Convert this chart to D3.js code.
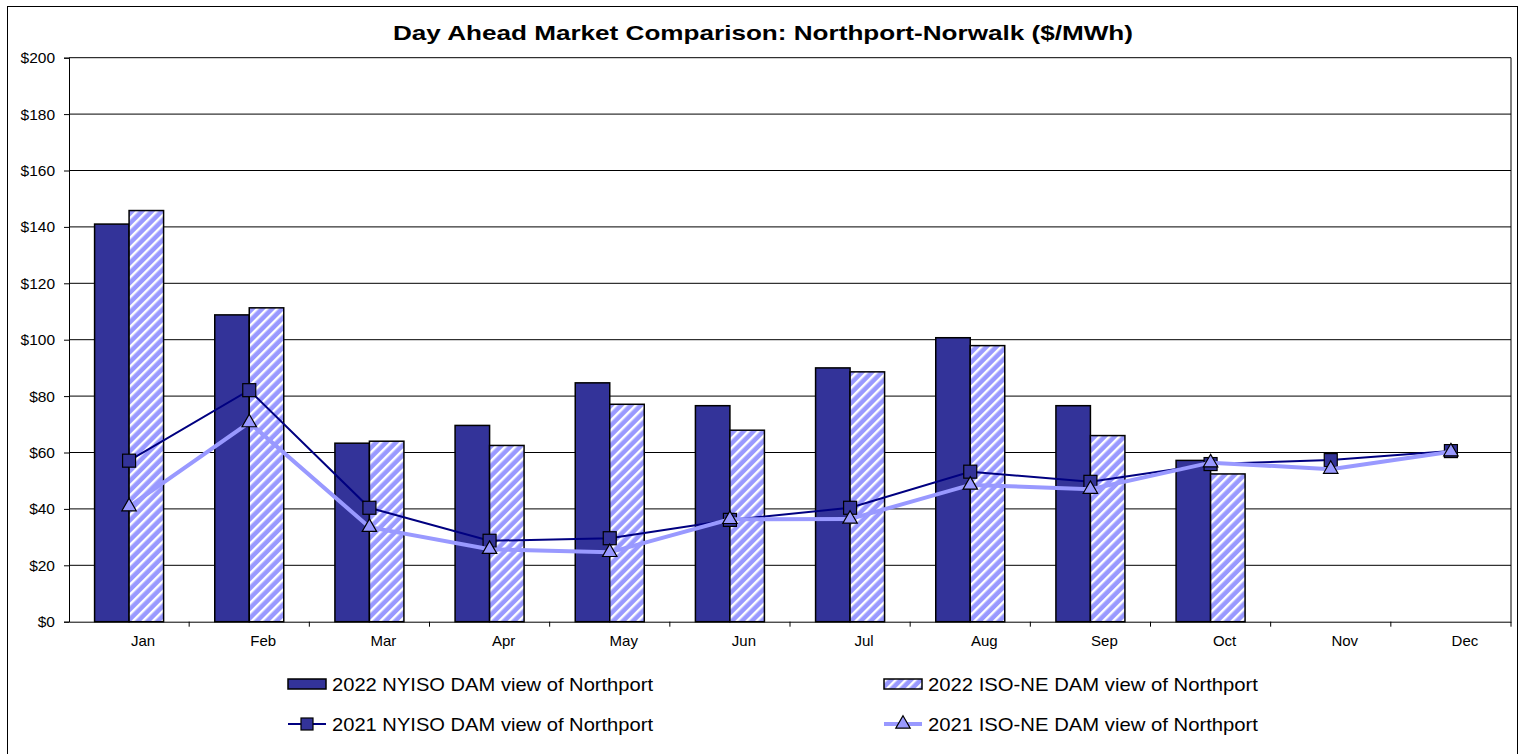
<!DOCTYPE html>
<html><head><meta charset="utf-8">
<script src="https://cdn.jsdelivr.net/npm/d3@7"></script>
<style>body{margin:0;background:#fff}svg{display:block;font-family:"Liberation Sans",Arial,sans-serif}</style>
</head><body>
<svg id="c" width="1525" height="754"></svg>
<script>
const months = ["Jan","Feb","Mar","Apr","May","Jun","Jul","Aug","Sep","Oct","Nov","Dec"];
const nyiso2022 = [141.0,108.8,63.3,69.6,84.7,76.6,90.0,100.7,76.6,57.2,null,null];
const isone2022 = [145.8,111.3,64.0,62.5,77.1,67.9,88.6,97.9,66.0,52.4,null,null];
const nyiso2021 = [57.1,82.1,40.4,28.7,29.6,36.1,40.4,53.2,49.6,55.9,57.3,60.5];
const isone2021 = [40.8,70.6,33.5,25.7,24.6,36.3,36.4,48.5,47.0,56.4,54.1,60.3];
const yTicks = [0,20,40,60,80,100,120,140,160,180,200];
const seriesNames = ["2022 NYISO DAM view of Northport","2022 ISO-NE DAM view of Northport","2021 NYISO DAM view of Northport","2021 ISO-NE DAM view of Northport"];

const svg = d3.select("#c");
const L = 69, R = 1511, T = 57.7, B = 621.7;
const x = d3.scaleBand().domain(months).range([L, R]).padding(0);
const y = d3.scaleLinear().domain([0, 200]).range([B, T]);
const bw = x.bandwidth();
const groupW = 69;
const xs = d3.scaleBand().domain(["n","i"]).range([(bw-groupW)/2, (bw+groupW)/2]).padding(0);
const cx = m => x(m) + bw/2;

const defs = svg.append("defs");
const pat = defs.append("pattern").attr("id","hatch").attr("patternUnits","userSpaceOnUse")
  .attr("width",7).attr("height",7).attr("patternTransform","rotate(45)");
pat.append("rect").attr("width",7).attr("height",7).attr("fill","#9999FF");
pat.append("rect").attr("x",0).attr("width",2.4).attr("height",7).attr("fill","#fff");

// outer border
svg.append("rect").attr("x",7.5).attr("y",6.5).attr("width",1510).attr("height",760)
  .attr("fill","none").attr("stroke","#000").attr("stroke-width",1);

// title
svg.append("text").attr("x",763).attr("y",40).attr("text-anchor","middle")
  .attr("font-size",21).attr("font-weight","bold")
  .attr("textLength",740).attr("lengthAdjust","spacingAndGlyphs")
  .text("Day Ahead Market Comparison: Northport-Norwalk ($/MWh)");

// gridlines
svg.append("g").selectAll("line").data(yTicks.filter(d=>d>0)).join("line")
  .attr("x1",L).attr("x2",R).attr("y1",d=>y(d)).attr("y2",d=>y(d))
  .attr("stroke","#000").attr("stroke-width",1);

// plot right border
svg.append("line").attr("x1",R).attr("x2",R).attr("y1",T).attr("y2",B).attr("stroke","#000");

// y axis
const yAxis = d3.axisLeft(y).tickValues(yTicks).tickFormat(d=>"$"+d).tickSize(5).tickPadding(9);
const gy = svg.append("g").attr("transform",`translate(${L},0)`).call(yAxis);
gy.select(".domain").attr("stroke","#000");
gy.selectAll("text").attr("font-size",15.5).attr("fill","#000").attr("font-family","Liberation Sans, Arial, sans-serif");

// x axis
const xAxis = d3.axisBottom(x).tickSize(0).tickPadding(14);
const gx = svg.append("g").attr("transform",`translate(0,${B})`).call(xAxis);
gx.select(".domain").attr("stroke","#000");
gx.selectAll("text").attr("font-size",15).attr("fill","#000").attr("dx",14).attr("font-family","Liberation Sans, Arial, sans-serif");
svg.append("g").selectAll("line").data(months).join("line")
  .attr("x1",m=>x(m)+bw).attr("x2",m=>x(m)+bw).attr("y1",B).attr("y2",B+5).attr("stroke","#000");

// bars
const bars = svg.append("g");
bars.selectAll("rect.n").data(months.map((m,i)=>({m,v:nyiso2022[i]})).filter(d=>d.v!=null)).join("rect")
  .attr("x",d=>x(d.m)+xs("n")).attr("width",xs.bandwidth()).attr("y",d=>y(d.v)).attr("height",d=>B-y(d.v))
  .attr("fill","#333399").attr("stroke","#000").attr("stroke-width",1.5);
bars.selectAll("rect.i").data(months.map((m,i)=>({m,v:isone2022[i]})).filter(d=>d.v!=null)).join("rect")
  .attr("x",d=>x(d.m)+xs("i")).attr("width",xs.bandwidth()).attr("y",d=>y(d.v)).attr("height",d=>B-y(d.v))
  .attr("fill","url(#hatch)").attr("stroke","#000").attr("stroke-width",1.5);

// lines
const line = d3.line().x(d=>cx(d.m)).y(d=>y(d.v));
const d21n = months.map((m,i)=>({m,v:nyiso2021[i]}));
const d21i = months.map((m,i)=>({m,v:isone2021[i]}));
svg.append("path").datum(d21n).attr("d",line).attr("fill","none").attr("stroke","#000080").attr("stroke-width",2);
svg.append("g").selectAll("rect").data(d21n).join("rect")
  .attr("x",d=>cx(d.m)-6.5).attr("y",d=>y(d.v)-6.5).attr("width",13).attr("height",13)
  .attr("fill","#333399").attr("stroke","#000").attr("stroke-width",1.2);
svg.append("path").datum(d21i).attr("d",line).attr("fill","none").attr("stroke","#9999FF").attr("stroke-width",4);
const tri = d3.symbol().type(d3.symbolTriangle).size(90);
svg.append("g").selectAll("path").data(d21i).join("path")
  .attr("d",tri).attr("transform",d=>`translate(${cx(d.m)},${y(d.v)})`)
  .attr("fill","#9999FF").attr("stroke","#000").attr("stroke-width",1.2);

// legend
const lg = svg.append("g").attr("font-size",19);
const rows = [
  {x:288, y:684, name:seriesNames[0], kind:"bar", w:321},
  {x:884, y:684, name:seriesNames[1], kind:"hatch", w:330},
  {x:288, y:724, name:seriesNames[2], kind:"sq", w:321},
  {x:884, y:724, name:seriesNames[3], kind:"tri", w:330}
];
rows.forEach(r=>{
  const g = lg.append("g");
  if (r.kind==="bar" || r.kind==="hatch") {
    g.append("rect").attr("x",r.x).attr("y",r.y-5).attr("width",38).attr("height",10)
      .attr("fill", r.kind==="bar" ? "#333399" : "url(#hatch)").attr("stroke","#000").attr("stroke-width",1.5);
  } else if (r.kind==="sq") {
    g.append("line").attr("x1",r.x).attr("x2",r.x+38).attr("y1",r.y).attr("y2",r.y).attr("stroke","#000080").attr("stroke-width",2);
    g.append("rect").attr("x",r.x+13).attr("y",r.y-6).attr("width",12).attr("height",12).attr("fill","#333399").attr("stroke","#000").attr("stroke-width",1.2);
  } else {
    g.append("line").attr("x1",r.x).attr("x2",r.x+38).attr("y1",r.y).attr("y2",r.y).attr("stroke","#9999FF").attr("stroke-width",4);
    g.append("path").attr("d",tri).attr("transform",`translate(${r.x+19},${r.y})`).attr("fill","#9999FF").attr("stroke","#000").attr("stroke-width",1.2);
  }
  g.append("text").attr("x",r.x+44).attr("y",r.y+7).attr("textLength",r.w).attr("lengthAdjust","spacingAndGlyphs").text(r.name);
});
</script>
</body></html>
